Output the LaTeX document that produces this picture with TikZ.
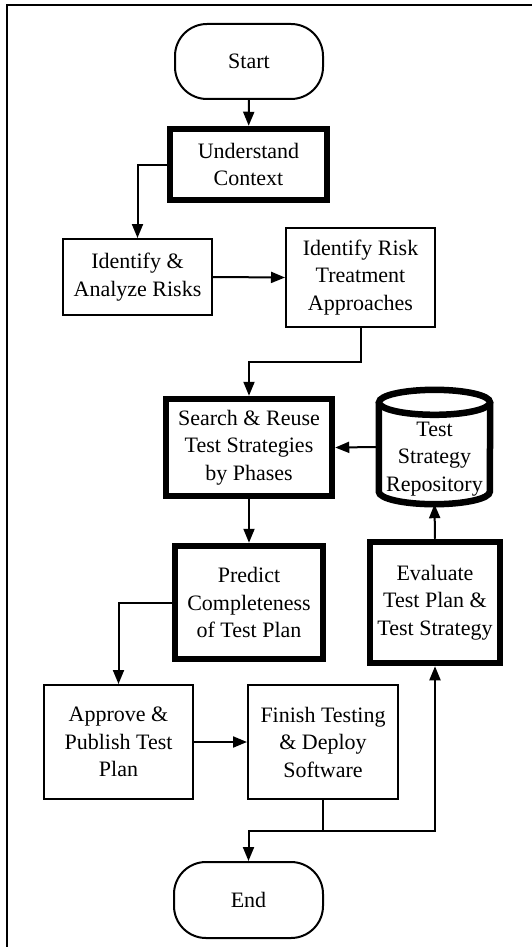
\documentclass[tikz,border=0pt]{standalone}
\usepackage{fontspec}
\setmainfont{Liberation Serif}
\usetikzlibrary{arrows.meta}

\tikzset{
  txt/.style={font=\fontsize{22}{27.5}\selectfont, align=center, inner sep=0pt},
  thinbox/.style={txt, draw, line width=2pt, rectangle},
  thickbox/.style={txt, draw, line width=6.5pt, rectangle},
  terminal/.style={txt, draw, line width=2pt, rectangle, rounded corners=32pt},
  flow/.style={line width=2pt, -{Triangle[length=14pt,width=11pt]}},
  plainline/.style={line width=2pt},
  frameline/.style={line width=2.2pt},
}

\begin{document}
\begin{tikzpicture}[x=1pt,y=-1pt]
  \useasboundingbox (0,0) rectangle (532,947);
  \fill[white] (0,0) rectangle (532,947);

  % page frame (top and left edges)
  \draw[frameline] (532,5) -- (7,5) -- (7,947);

  % process steps
  \node[terminal, minimum width=148pt, minimum height=75pt] (start) at (249,61.5) {Start};
  \node[thickbox, minimum width=157pt, minimum height=71pt] (uc) at (248.5,164.5) {Understand\\Context};
  \node[thinbox, minimum width=149pt, minimum height=76pt] (ia) at (137.5,277) {Identify \&\\Analyze Risks};
  \node[thinbox, minimum width=149pt, minimum height=99pt] (irta) at (360.5,277.5) {Identify Risk\\Treatment\\Approaches};
  \node[thickbox, minimum width=166pt, minimum height=97pt] (search) at (249,447.5) {Search \& Reuse\\Test Strategies\\by Phases};
  \node[thickbox, minimum width=148pt, minimum height=113pt] (predict) at (249,602.5) {Predict\\Completeness\\of Test Plan};
  \node[thickbox, minimum width=130pt, minimum height=121pt] (eval) at (435,602.5) {Evaluate\\Test Plan \&\\Test Strategy};
  \node[thinbox, minimum width=149pt, minimum height=114pt] (approve) at (118.5,742) {Approve \&\\Publish Test\\Plan};
  \node[thinbox, minimum width=150pt, minimum height=114pt] (finish) at (323,742) {Finish Testing\\\& Deploy\\Software};
  \node[terminal, minimum width=149pt, minimum height=76pt] (end) at (248.5,900) {End};

  % repository cylinder: body, bottom rim and top ellipse
  \node[rectangle, minimum width=111pt, minimum height=114pt, inner sep=0pt] (repo) at (434.5,447) {};
  \draw[line width=6.5pt]
    ([yshift=-12.5pt]repo.north west) -- ([yshift=12.5pt]repo.south west)
    arc[start angle=180, end angle=360, x radius=55.5pt, y radius=12.5pt]
    -- ([yshift=-12.5pt]repo.north east);
  \draw[line width=6.5pt] ([yshift=-12.5pt]repo.north) ellipse[x radius=55.5pt, y radius=12.5pt];
  \node[txt] (repotext) at (434.5,459) {Test\\Strategy\\Repository};

  % connectors
  \draw[flow] (start) -- (uc);
  \draw[flow] (uc.west) -| (ia.north);
  \draw[flow] (ia.east) -- (irta.west);
  \draw[flow] (irta.south) -- ++(0,34) -| (search.north);
  \draw[flow] (repo.west) -- (search.east);
  \draw[flow] (search.south) -- (predict.north);
  \draw[flow] (eval.north) -- (repo.south);
  \draw[flow] (predict.west) -| (approve.north);
  \draw[flow] (approve.east) -- (finish.west);
  \draw[plainline] (finish.south) -- ++(0,31) coordinate (split);
  \draw[flow] (split) -| (end.north);
  \draw[flow] (split) -| (eval.south);
\end{tikzpicture}
\end{document}
